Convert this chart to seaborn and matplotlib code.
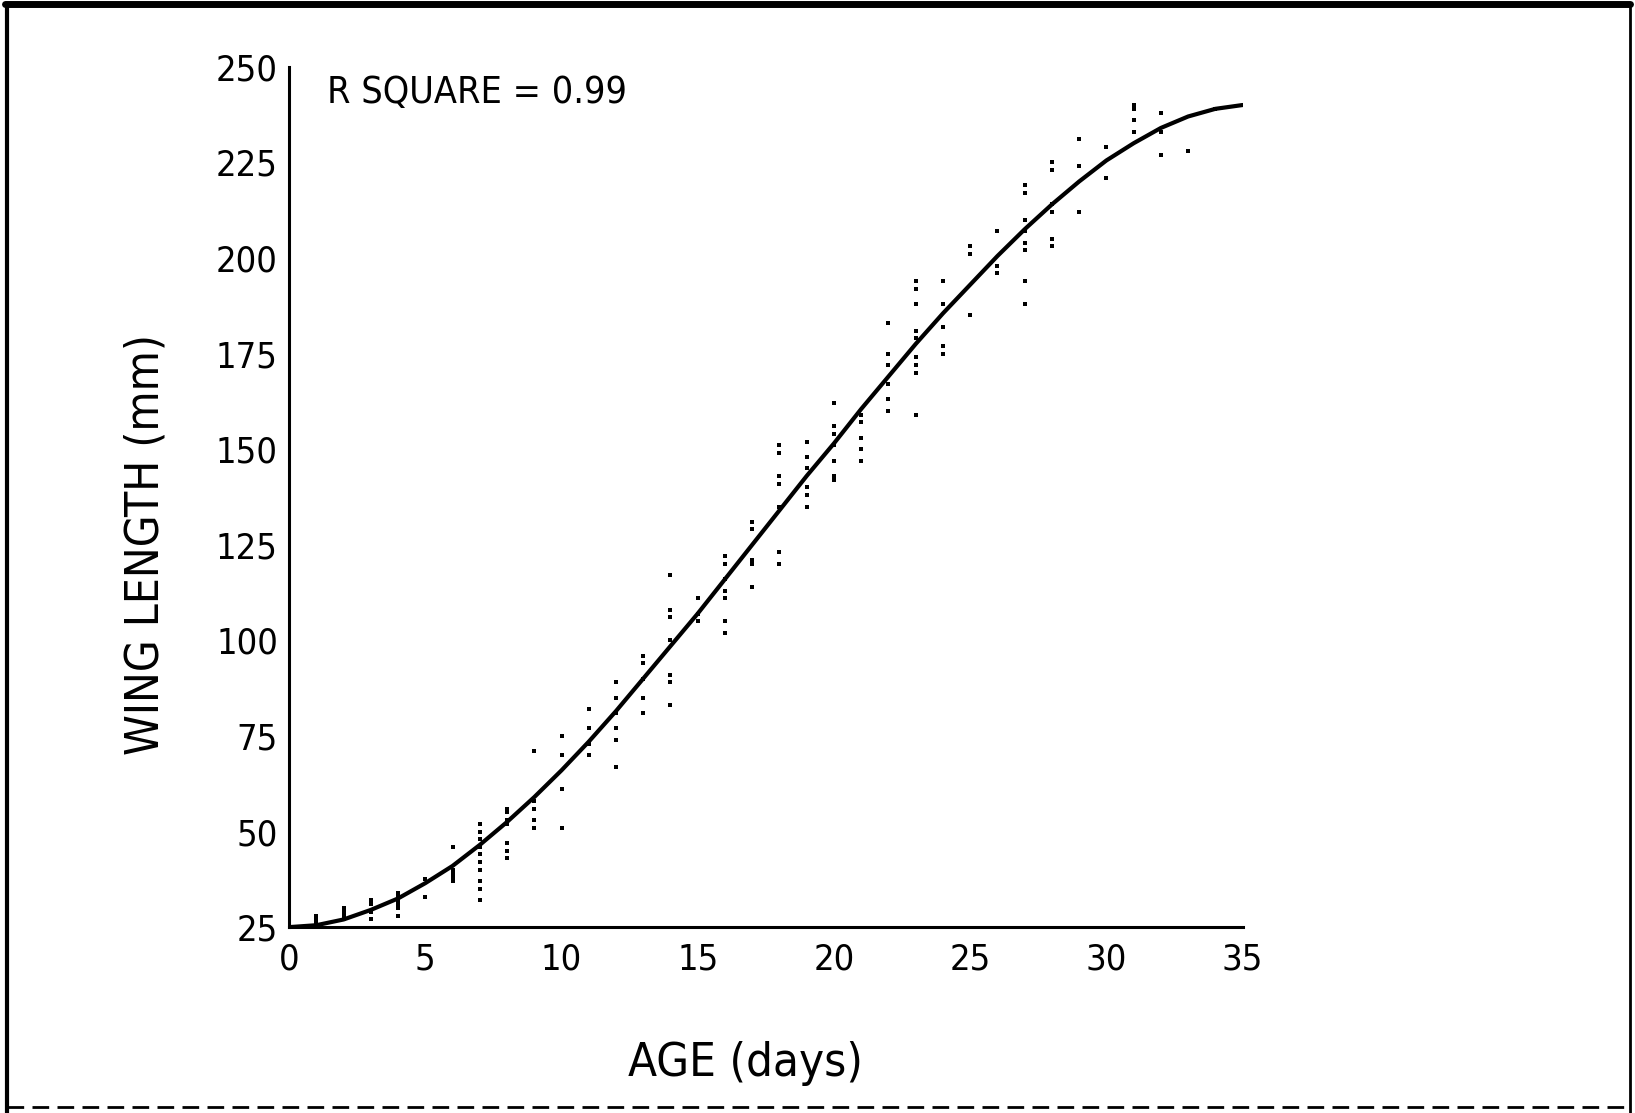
import matplotlib
matplotlib.use("Agg")
import matplotlib.pyplot as plt
from matplotlib.lines import Line2D
import seaborn as sns
import pandas as pd

# ---- data ----
fit_age = list(range(0, 36))
fit_wing = [25, 25.5, 27, 29.5, 32.5, 36.5, 41, 46.5, 52.5, 59, 66, 73.5, 81.5, 90, 98.5,
            107, 116, 125, 134, 143, 151.5, 160.5, 169, 177.5, 185.5, 193, 200.5, 207.5,
            214, 220, 225.5, 230, 234, 237, 239, 240]

obs_days = list(range(1, 35))
obs_values = [
    [26, 27, 28],                                  # 1
    [27, 28, 29, 30],                              # 2
    [27, 29, 31, 32],                              # 3
    [28, 30, 31, 32, 33, 34],                      # 4
    [33, 37.5],                                    # 5
    [37, 38, 39, 40, 46],                          # 6
    [32, 35, 37, 40, 42, 44, 46, 48, 50, 52],      # 7
    [43, 45, 47, 52, 53, 55, 56],                  # 8
    [51, 53, 56, 58, 71],                          # 9
    [51, 61, 70, 75],                              # 10
    [70, 73, 77, 82],                              # 11
    [67, 74, 77, 81, 85, 89],                      # 12
    [81, 85, 90, 94, 96],                          # 13
    [83, 89, 91, 100, 106, 108, 117],              # 14
    [105, 107, 111],                               # 15
    [102, 105, 111, 113, 116, 120, 122],           # 16
    [114, 120, 121, 129, 131],                     # 17
    [120, 123, 135, 141, 143, 149, 151],           # 18
    [135, 138, 140, 145, 148, 152],                # 19
    [142, 143, 147, 151, 154, 156, 162],           # 20
    [147, 150, 153, 157, 159],                     # 21
    [160, 163, 167, 172, 175, 183],                # 22
    [159, 170, 172, 174, 179, 181, 188, 192, 194], # 23
    [175, 177, 182, 188, 194],                     # 24
    [185, 201, 203],                               # 25
    [196, 198, 207],                               # 26
    [188, 194, 202, 204, 207, 210, 217, 219],      # 27
    [203, 205, 212, 214, 223, 225],                # 28
    [212, 224, 231],                               # 29
    [221, 229],                                    # 30
    [233, 236, 239, 240],                          # 31
    [227, 233, 238],                               # 32
    [228],                                         # 33
    [239],                                         # 34
]

x_ticks = [0, 5, 10, 15, 20, 25, 30, 35]
y_ticks = [25, 50, 75, 100, 125, 150, 175, 200, 225, 250]

r_square_text = "R SQUARE = 0.99"
x_label = "AGE (days)"
y_label = "WING LENGTH (mm)"

# ---- build tables ----
fit_df = pd.DataFrame({"age": fit_age, "wing": fit_wing})
rows = [(d, v) for d, vals in zip(obs_days, obs_values) for v in vals]
obs_df = pd.DataFrame(rows, columns=["age", "wing"])

# ---- figure ----
sns.set_theme(style="white")
plt.rcParams["font.family"] = ["DejaVu Sans"]
plt.rcParams["font.stretch"] = "condensed"

fig = plt.figure(figsize=(16.35, 11.13), dpi=100)
ax = fig.add_axes([0.1768, 0.167, 0.5832, 0.773])

sns.scatterplot(data=obs_df, x="age", y="wing", ax=ax, color="black", s=10,
                marker="s", linewidth=0, zorder=3)
sns.lineplot(data=fit_df, x="age", y="wing", ax=ax, color="black", linewidth=3,
             zorder=4)

ax.set_xlim(0, 35)
ax.set_ylim(25, 250)
ax.set_xticks(x_ticks)
ax.set_yticks(y_ticks)
ax.set_xticklabels([str(t) for t in x_ticks])
ax.set_yticklabels([str(t) for t in y_ticks])

for s in ["top", "right"]:
    ax.spines[s].set_visible(False)
for s in ["left", "bottom"]:
    ax.spines[s].set_color("black")
    ax.spines[s].set_linewidth(2.2)

ax.tick_params(axis="both", direction="inout", length=10, width=2, colors="black",
               labelsize=26, labelcolor="black")
ax.tick_params(axis="y", pad=3)
ax.tick_params(axis="x", pad=6)
ax.grid(False)

ax.set_xlabel(x_label, fontsize=34, color="black", va="center")
ax.set_ylabel(y_label, fontsize=33, color="black", va="center")
ax.xaxis.set_label_coords(0.479, -0.158)
ax.yaxis.set_label_coords(-0.150, 0.445)

ax.text(0.04, 0.97, r_square_text, transform=ax.transAxes, fontsize=27,
        va="center", ha="left", color="black")

# scanned page frame
fig.add_artist(Line2D([0.003, 0.997], [0.996, 0.996], transform=fig.transFigure,
                      color="black", linewidth=5))
fig.add_artist(Line2D([0.004, 0.004], [0.0, 0.996], transform=fig.transFigure,
                      color="black", linewidth=3))
fig.add_artist(Line2D([0.997, 0.997], [0.0, 0.996], transform=fig.transFigure,
                      color="black", linewidth=2))
fig.add_artist(Line2D([0.004, 0.997], [0.005, 0.005], transform=fig.transFigure,
                      color="black", linewidth=2, linestyle=(0, (6, 3))))

fig.savefig("out.png", dpi=100, facecolor="white")
